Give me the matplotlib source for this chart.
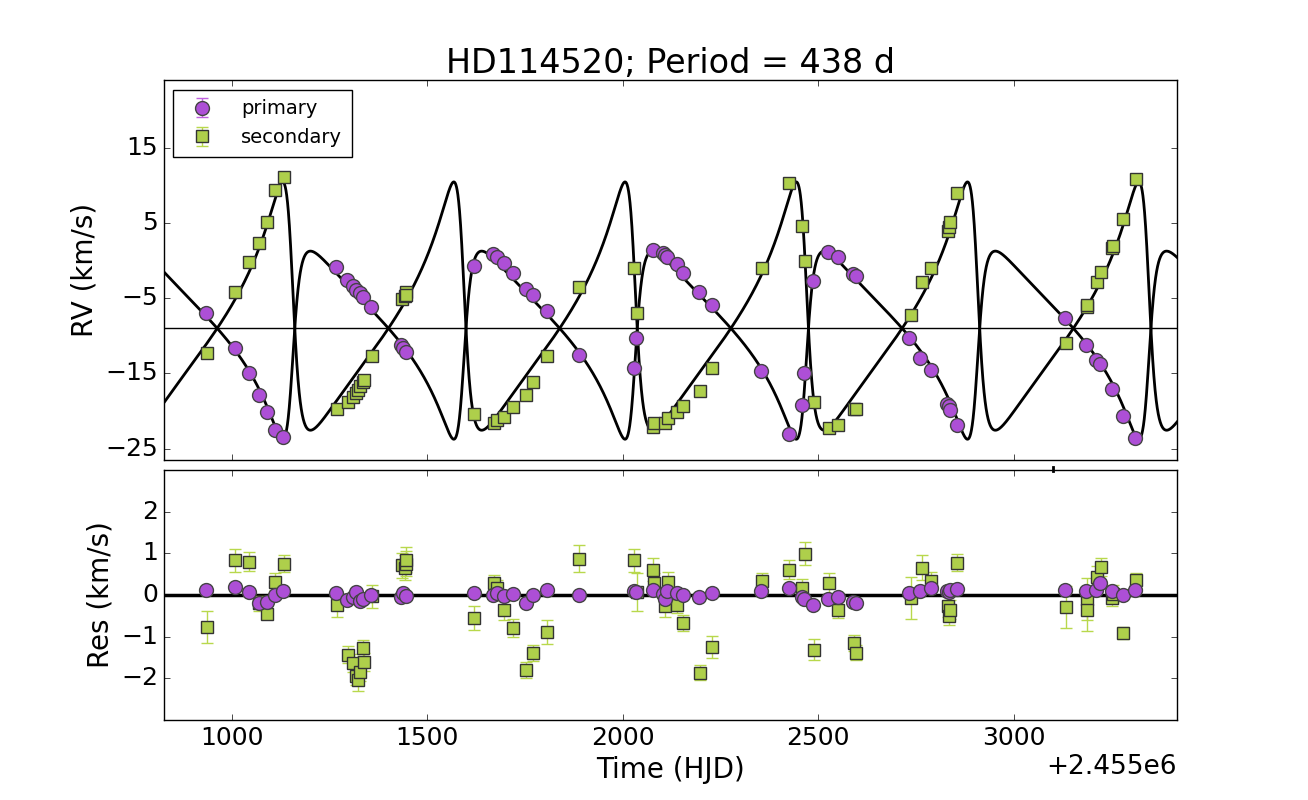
import numpy as np
import matplotlib
matplotlib.use("Agg")
import matplotlib.pyplot as plt
from matplotlib.lines import Line2D

plt.style.use("classic")
plt.rcParams['font.family'] = ['DejaVu Sans']

# ---------------- data ----------------
prim_t = np.array([934.2, 1006.9, 1043.5, 1069.1, 1089.6, 1109.3, 1130.5, 1266.9, 1295.0, 1309.6,
                   1318.1, 1326.8, 1335.2, 1356.5, 1433.2, 1437.6, 1446.0, 1619.3, 1668.6, 1677.3,
                   1696.0, 1718.3, 1751.6, 1769.5, 1805.3, 1888.0, 2028.7, 2033.8, 2076.6, 2103.7,
                   2108.8, 2113.9, 2138.0, 2153.3, 2195.8, 2227.5, 2352.9, 2425.3, 2457.8, 2464.5,
                   2487.5, 2525.9, 2549.9, 2589.9, 2596.7, 2733.1, 2760.5, 2787.9, 2830.4, 2834.7,
                   2836.5, 2855.2, 3130.8, 3184.5, 3210.1, 3220.4, 3250.0, 3280.0, 3309.9]) + 2455000.0
prim_rv = np.array([-6.91, -11.64, -14.88, -17.84, -20.06, -22.49, -23.38, -0.80, -2.57, -3.37,
                    -3.90, -4.34, -4.79, -6.12, -11.20, -11.64, -12.09, -0.67, 0.88, 0.52,
                    -0.35, -1.60, -3.72, -4.56, -6.65, -12.53, -14.22, -10.23, 1.41, 1.06,
                    0.80, 0.52, -0.48, -1.60, -4.12, -5.89, -14.65, -23.02, -19.17, -14.96,
                    -2.70, 1.19, 0.52, -1.77, -2.04, -10.23, -12.97, -14.52, -19.04, -19.30,
                    -19.83, -21.83, -7.58, -11.20, -13.19, -13.76, -17.08, -20.59, -23.59])
prim_res = np.array([0.12, 0.19, 0.07, -0.20, -0.16, -0.01, 0.09, 0.04, -0.11, -0.05,
                     0.07, -0.15, -0.10, 0.00, -0.05, 0.05, -0.02, 0.04, 0.00, 0.05,
                     -0.03, 0.02, -0.20, 0.00, 0.12, -0.01, 0.09, 0.07, 0.13, 0.03,
                     -0.10, 0.10, 0.05, 0.00, -0.05, 0.05, 0.09, 0.16, -0.04, -0.09,
                     -0.25, -0.09, -0.04, -0.17, -0.20, 0.04, 0.09, 0.17, 0.10, 0.08,
                     0.12, 0.15, 0.12, 0.10, 0.13, 0.28, 0.09, 0.00, 0.13])
prim_err = np.full(prim_t.size, 0.06)

sec_t = np.array([936.8, 1008.4, 1043.5, 1069.1, 1090.3, 1110.8, 1132.3, 1268.7, 1297.6, 1309.6,
                  1316.5, 1322.4, 1328.3, 1335.2, 1338.0, 1358.2, 1435.8, 1441.9, 1446.0, 1446.5,
                  1620.0, 1671.2, 1678.9, 1696.8, 1719.8, 1752.3, 1771.0, 1805.3, 1888.7, 2029.5,
                  2035.6, 2078.1, 2079.0, 2108.0, 2116.5, 2139.5, 2154.8, 2197.6, 2229.1, 2355.5,
                  2426.1, 2459.4, 2467.0, 2490.1, 2528.4, 2551.5, 2592.4, 2596.7, 2736.7, 2764.9,
                  2789.4, 2832.2, 2834.0, 2838.1, 2856.0, 3132.4, 3186.1, 3187.9, 3211.7, 3221.9,
                  3250.0, 3252.6, 3280.0, 3311.5]) + 2455000.0
sec_rv = np.array([-12.30, -4.16, -0.18, 2.30, 5.09, 9.38, 11.11, -19.74, -18.73, -18.07,
                   -17.62, -17.18, -16.65, -16.11, -15.90, -12.66, -5.05, -4.69, -4.20, -4.60,
                   -20.37, -21.52, -21.16, -20.72, -19.40, -17.84, -16.15, -12.66, -3.46, -1.02,
                   -6.99, -22.05, -21.60, -21.60, -20.94, -20.14, -19.30, -17.31, -14.30, -1.02,
                   10.27, 4.60, -0.05, -18.81, -22.26, -21.83, -19.74, -19.66, -7.22, -2.80,
                   -1.02, 3.94, 4.51, 5.17, 8.94, -10.98, -6.20, -5.89, -2.80, -1.47,
                   1.64, 1.99, 5.49, 10.80])
sec_res = np.array([-0.77, 0.83, 0.80, -0.20, -0.45, 0.32, 0.75, -0.25, -1.43, -1.63,
                    -1.94, -2.05, -1.84, -1.27, -1.61, -0.03, 0.72, 0.66, 0.75, 0.85,
                    -0.55, 0.29, 0.17, -0.37, -0.79, -1.80, -1.39, -0.89, 0.87, 0.83,
                    0.07, 0.61, 0.29, -0.27, 0.31, -0.23, -0.67, -1.87, -1.25, 0.33,
                    0.61, 0.17, 0.99, -1.31, 0.28, -0.35, -1.15, -1.39, -0.07, 0.65,
                    0.33, -0.27, -0.51, -0.35, 0.78, -0.28, -0.09, -0.37, 0.44, 0.68,
                    -0.07, 0.03, -0.91, 0.35])
sec_err = np.array([0.38, 0.27, 0.23, 0.18, 0.12, 0.20, 0.20, 0.27, 0.20, 0.22,
                    0.22, 0.25, 0.22, 0.20, 0.22, 0.28, 0.30, 0.30, 0.30, 0.30,
                    0.28, 0.20, 0.20, 0.22, 0.22, 0.20, 0.20, 0.28, 0.32, 0.28,
                    0.45, 0.28, 0.25, 0.25, 0.25, 0.20, 0.20, 0.18, 0.27, 0.20,
                    0.22, 0.22, 0.28, 0.25, 0.25, 0.20, 0.20, 0.18, 0.50, 0.30,
                    0.22, 0.25, 0.22, 0.22, 0.20, 0.50, 0.50, 0.50, 0.25, 0.22,
                    0.20, 0.20, 0.15, 0.18])

# orbital solution (parameters of the plotted model)
period = 438.0
ecc = 0.58
omega1_deg = 252.0
t_peri = 2456153.0
K1 = 12.5
K2 = 16.5
gamma = -9.0

title = "HD114520; Period = 438 d"
hjd_offset = 2455000.0

# ---------------- model ----------------
def kepler_rv(t, K, omega_deg):
    M = 2 * np.pi * (t - t_peri) / period
    E = M.copy()
    for _ in range(60):
        E = E - (E - ecc * np.sin(E) - M) / (1 - ecc * np.cos(E))
    nu = 2 * np.arctan2(np.sqrt(1 + ecc) * np.sin(E / 2), np.sqrt(1 - ecc) * np.cos(E / 2))
    w = np.radians(omega_deg)
    return gamma + K * (np.cos(nu + w) + ecc * np.cos(w))

xlim = (2455825.0, 2458418.0)
tm = np.linspace(xlim[0], xlim[1], 6000)
rv1 = kepler_rv(tm, K1, omega1_deg)
rv2 = kepler_rv(tm, K2, omega1_deg + 180.0)

# ---------------- figure ----------------
pc, pe = '#ad4fd6', '#c060e0'
sc, se = '#aecf4b', '#b8d84c'

fig = plt.figure(figsize=(13.08, 8.0), dpi=100, facecolor='white')
ax1 = fig.add_axes([0.125, 0.425, 0.775, 0.475])
ax2 = fig.add_axes([0.125, 0.1, 0.775, 0.3125], sharex=ax1)

ax1.plot(tm, rv1, color='k', lw=2, zorder=2)
ax1.plot(tm, rv2, color='k', lw=2, zorder=2)
ax1.axhline(gamma, color='k', lw=1, zorder=1)
ax1.errorbar(prim_t, prim_rv, yerr=prim_err, fmt='o', color=pc, ecolor=pe,
             mec='#444444', mew=1, ms=10, capsize=4, label='primary', zorder=4)
ax1.errorbar(sec_t, sec_rv, yerr=sec_err, fmt='s', color=sc, ecolor=se,
             mec='#333333', mew=1, ms=9, capsize=4, label='secondary', zorder=3)

ax1.set_ylim(-26.5, 24.0)
ax1.set_yticks([15, 5, -5, -15, -25])
ax1.set_ylabel('RV (km/s)', fontsize=20)
ax1.set_title(title, fontsize=24)
ax1.tick_params(labelsize=18)
plt.setp(ax1.get_xticklabels(), visible=False)
ax1.xaxis.get_offset_text().set_visible(False)
leg = ax1.legend(loc='upper left', numpoints=1, fontsize=14, frameon=True,
                 fancybox=False, borderpad=0.5, handletextpad=1.0)

ax2.axhline(0, color='k', lw=2.5, zorder=1)
ax2.errorbar(sec_t, sec_res, yerr=sec_err, fmt='s', color=sc, ecolor=se,
             mec='#333333', mew=1, ms=9, capsize=4, zorder=3)
ax2.errorbar(prim_t, prim_res, yerr=prim_err, fmt='o', color=pc, ecolor=pe,
             mec='#444444', mew=1, ms=10, capsize=4, zorder=4)
ax2.set_ylim(-3, 3)
ax2.set_yticks([-2, -1, 0, 1, 2])
ax2.set_ylabel('Res (km/s)', fontsize=20)
ax2.set_xlabel('Time (HJD)', fontsize=20)
ax2.tick_params(labelsize=18)
ax2.set_xlim(*xlim)
ax2.set_xticks(np.array([1000, 1500, 2000, 2500, 3000]) + hjd_offset)
ax2.ticklabel_format(axis='x', useOffset=hjd_offset)
ax2.xaxis.get_offset_text().set_fontsize(19)
ax1.xaxis.get_offset_text().set_visible(False)

# small stray tick mark between panels seen in the reference
fig.add_artist(Line2D([1052.7 / 1308, 1052.7 / 1308], [1 - 466.5 / 800, 1 - 470.5 / 800],
                      transform=fig.transFigure, color='k', lw=2))

fig.savefig('out.png', dpi=100, facecolor='white')
